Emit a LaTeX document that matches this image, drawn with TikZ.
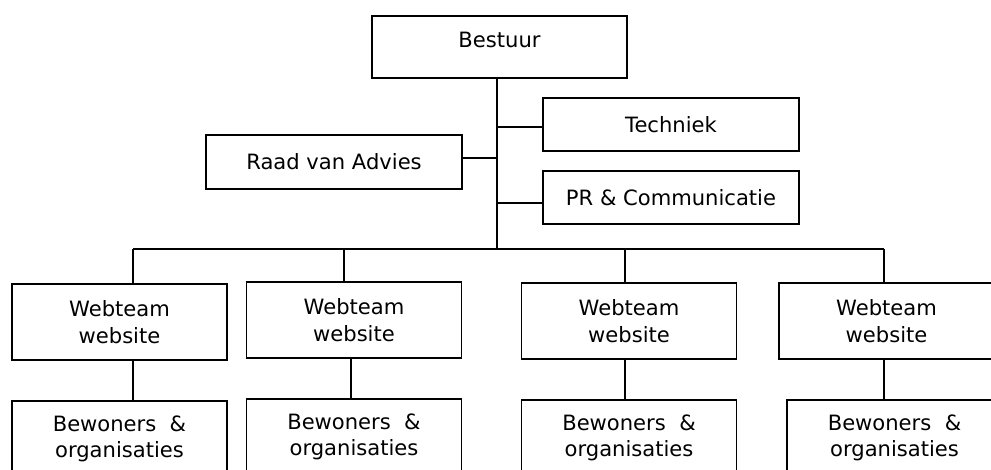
\documentclass[tikz,border=0pt]{standalone}
\usepackage{fontspec}
\setmainfont{DejaVu Sans}
\usetikzlibrary{positioning}

\begin{document}
\begin{tikzpicture}[x=0.02cm,y=-0.02cm,line width=1.1pt,font=\fontsize{12}{15.3}\selectfont]
	\tikzset{Box/.style={draw, rectangle, align=center, inner sep=0pt, minimum width=5.12cm, minimum height=1.07cm}}
	\tikzset{Team/.style={Box, minimum width=4.3cm, minimum height=1.52cm}}
	\clip (0,0) rectangle (991,470);
	% top of the tree
	\node[Box, minimum width=5.1cm, minimum height=1.24cm, text depth=8pt] (Bestuur) at (499.5,47) {Bestuur};
	\node[Box] (Techniek) at (671,124.5) {Techniek};
	\node[Box] (PR) at (671,197.5) {PR \& Communicatie};
	\node[Box, minimum height=1.08cm] (Raad) at (334,162) {Raad van Advies};
	% webteams
	\node[Team] (Web1) at (119.5,322) {Webteam\\website};
	\node[Team] (Web2) at (354,320) {Webteam\\website};
	\node[Team] (Web3) at (629,321) {Webteam\\website};
	\node[Team] (Web4) at (886.5,321) {Webteam\\website};
	\node[Team, below=0.78cm of Web1] (Bew1) {Bewoners~~\&\\organisaties};
	\node[Team, below=0.78cm of Web2] (Bew2) {Bewoners~~\&\\organisaties};
	\node[Team, below=0.78cm of Web3] (Bew3) {Bewoners~~\&\\organisaties};
	\node[Team, below=0.78cm of Web4, xshift=0.16cm] (Bew4) {Bewoners~~\&\\organisaties};
	% lines
	\coordinate (Trunk) at (497,249);
	\coordinate (BusL) at (133,249);
	\coordinate (BusR) at (884,249);
	\draw (Trunk |- Bestuur.south) -- (Trunk);
	\draw (BusL) -- (BusR);
	\draw ([yshift=-0.05cm]Techniek.west) -- ([yshift=-0.05cm]Techniek.west -| Trunk);
	\draw ([yshift=-0.11cm]PR.west) -- ([yshift=-0.11cm]PR.west -| Trunk);
	\draw ([yshift=0.08cm]Raad.east) -- ([yshift=0.08cm]Raad.east -| Trunk);
	\foreach \i/\a/\b in {1/133/133,2/344/351,3/625/625,4/884/884}{
		\coordinate (Top\i) at (\a,249);
		\coordinate (Mid\i) at (\b,0);
		\draw (Top\i) -- (Top\i |- Web\i.north);
		\draw (Mid\i |- Web\i.south) -- (Mid\i |- Bew\i.north);
	}
\end{tikzpicture}
\end{document}
